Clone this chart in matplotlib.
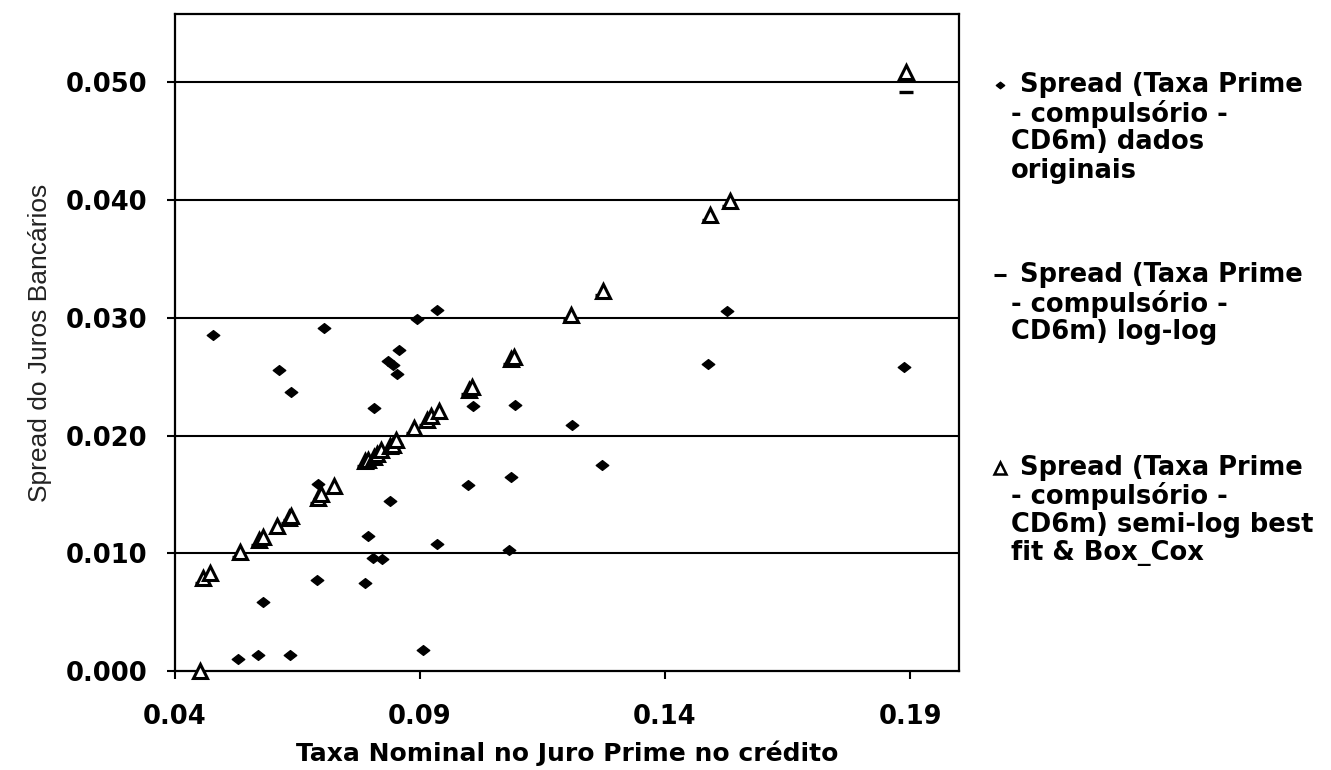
import matplotlib
matplotlib.use('Agg')
import matplotlib.pyplot as plt
from matplotlib.path import Path
from matplotlib.lines import Line2D

# ── dados
# Spread (Taxa Prime - compulsório - CD6m) dados originais
orig_x = [0.0478, 0.0529, 0.0569, 0.0580, 0.0613, 0.0635, 0.0636, 0.0689,
          0.0692, 0.0705, 0.0787, 0.0794, 0.0805, 0.0806, 0.0823, 0.0835,
          0.0839, 0.0844, 0.0854, 0.0857, 0.0894, 0.0906, 0.0935, 0.0935,
          0.0997, 0.1008, 0.1082, 0.1086, 0.1093, 0.1211, 0.1271, 0.1488,
          0.1527, 0.1888]
orig_y = [0.0285, 0.0010, 0.0014, 0.0059, 0.0256, 0.0014, 0.0237, 0.0077,
          0.0159, 0.0291, 0.0075, 0.0115, 0.0096, 0.0223, 0.0095, 0.0263,
          0.0144, 0.0260, 0.0252, 0.0273, 0.0299, 0.0018, 0.0307, 0.0108,
          0.0158, 0.0225, 0.0103, 0.0165, 0.0226, 0.0209, 0.0175, 0.0261,
          0.0306, 0.0258]

# semi-log best fit & Box_Cox
semi_x = [0.0452, 0.0458, 0.0471, 0.0532, 0.0571, 0.0580, 0.0609, 0.0632,
          0.0637, 0.0692, 0.0697, 0.0724, 0.0788, 0.0794, 0.0806, 0.0812,
          0.0820, 0.0838, 0.0845, 0.0852, 0.0888, 0.0914, 0.0922, 0.0939,
          0.1000, 0.1006, 0.1086, 0.1092, 0.1208, 0.1274, 0.1491, 0.1532,
          0.1892]
semi_y = [0.0000, 0.0079, 0.0083, 0.0101, 0.0111, 0.0114, 0.0123, 0.0130,
          0.0132, 0.0147, 0.0150, 0.0157, 0.0178, 0.0179, 0.0182, 0.0184,
          0.0188, 0.0191, 0.0192, 0.0196, 0.0206, 0.0213, 0.0217, 0.0221,
          0.0239, 0.0241, 0.0265, 0.0267, 0.0302, 0.0323, 0.0387, 0.0399,
          0.0509]

# log-log (quase todo escondido sob os triângulos)
loglog_x = [0.0456, 0.0469, 0.0530, 0.0569, 0.0578, 0.0630, 0.0635, 0.0690,
            0.0695, 0.0786, 0.0792, 0.0804, 0.0810, 0.0818, 0.0836, 0.0843,
            0.0850, 0.0886, 0.0912, 0.0920, 0.0937, 0.0998, 0.1004, 0.1084,
            0.1090, 0.1206, 0.1272, 0.1489, 0.1530, 0.1891]
loglog_y = [0.0075, 0.0079, 0.0097, 0.0107, 0.0110, 0.0126, 0.0128, 0.0143,
            0.0146, 0.0174, 0.0175, 0.0178, 0.0180, 0.0184, 0.0187, 0.0188,
            0.0192, 0.0202, 0.0209, 0.0213, 0.0217, 0.0235, 0.0237, 0.0261,
            0.0263, 0.0298, 0.0319, 0.0383, 0.0395, 0.0492]

x_ticks = [0.04, 0.09, 0.14, 0.19]
y_ticks = [0.000, 0.010, 0.020, 0.030, 0.040, 0.050]

legend_lbls = [
    [' Spread (Taxa Prime', '- compulsório -', 'CD6m) dados', 'originais'],
    [' Spread (Taxa Prime', '- compulsório -', 'CD6m) log-log'],
    [' Spread (Taxa Prime', '- compulsório -', 'CD6m) semi-log best', 'fit & Box_Cox'],
]

# losango achatado como no Excel
DIAMOND = Path([(-1, 0), (0, 0.78), (1, 0), (0, -0.78), (-1, 0)],
               [Path.MOVETO, Path.LINETO, Path.LINETO, Path.LINETO, Path.CLOSEPOLY])

FONT = 'DejaVu Sans'
W, H = 1331, 770

fig = plt.figure(figsize=(W / 100, H / 100), dpi=100, facecolor='white')
ax = fig.add_axes([175 / W, 1 - 671 / H, (959 - 175) / W, (671 - 14) / H])

for yv in y_ticks[1:]:
    ax.axhline(yv, color='black', lw=1.5, zorder=1)

ax.plot(orig_x, orig_y, ls='none', marker=DIAMOND, ms=9, color='black',
        mec='black', zorder=3)
ax.plot(loglog_x, loglog_y, ls='none', marker='_', ms=10, mew=2.4,
        color='black', zorder=3)
ax.plot(semi_x, semi_y, ls='none', marker='^', ms=10, mfc='white',
        mec='black', mew=2.2, zorder=4, clip_on=False)

ax.set_xlim(0.04, 0.20)
ax.set_ylim(0.0, 0.0558)
ax.set_xticks(x_ticks)
ax.set_xticklabels([f'{v:.2f}' for v in x_ticks])
ax.set_yticks(y_ticks)
ax.set_yticklabels([f'{v:.3f}' for v in y_ticks])

for sp in ax.spines.values():
    sp.set_color('black')
    sp.set_linewidth(1.6)
ax.tick_params(direction='out', length=6, width=1.5, color='black',
               labelsize=18.5)
ax.tick_params(axis='y', pad=14)
ax.tick_params(axis='x', pad=18)
for lbl in ax.get_xticklabels() + ax.get_yticklabels():
    lbl.set_fontfamily(FONT)
    lbl.set_fontweight('bold')

ax.set_xlabel('Taxa Nominal no Juro Prime no crédito', fontsize=18,
              fontfamily=FONT, fontweight='bold', labelpad=7)
ax.set_ylabel('Spread do Juros Bancários', fontsize=19,
              fontfamily='Liberation Sans', color='#222222', labelpad=10)

# ── legenda desenhada à mão (marcador alinhado com a 1ª linha)
marks = [dict(marker=DIAMOND, ms=6, color='black'),
         dict(marker='_', ms=9, mew=2.2, color='black'),
         dict(marker='^', ms=8, mfc='white', mec='black', mew=1.8)]
tops = [85, 275, 468]
line_h = 28.5
for lines, mk, y0 in zip(legend_lbls, marks, tops):
    fig.add_artist(Line2D([1000 / W], [1 - y0 / H], ls='none',
                          transform=fig.transFigure, **mk))
    for i, txt in enumerate(lines):
        fig.text(1011 / W, 1 - (y0 + i * line_h) / H, txt, fontsize=18.5,
                 fontfamily=FONT, fontweight='bold', va='center', ha='left')

fig.savefig('out.png', dpi=100, facecolor='white')
